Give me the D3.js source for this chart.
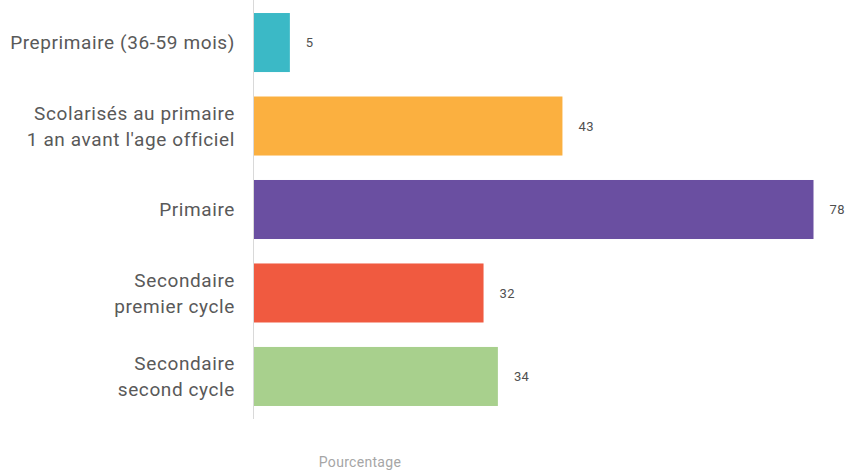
<!DOCTYPE html>
<html>
<head>
<meta charset="utf-8">
<script src="https://cdn.jsdelivr.net/npm/d3@7"></script>
<style>
  html, body { margin: 0; padding: 0; background: #fff; }
  svg { display: block; font-family: "Roboto", "Liberation Sans", sans-serif; }
</style>
</head>
<body>
<svg id="chart" width="850" height="472"></svg>
<script>
// Participation scolaire par niveau (%)
const categories = [
  ["Preprimaire (36-59 mois)"],
  ["Scolarisés au primaire", "1 an avant l'age officiel"],
  ["Primaire"],
  ["Secondaire", "premier cycle"],
  ["Secondaire", "second cycle"]
];
const values = [5, 43, 78, 32, 34];
const colors = ["#3BB9C6", "#FBB040", "#6A4FA1", "#F05A40", "#A8D08D"];
const axisTitle = "Pourcentage";

const svg = d3.select("#chart");
const left = 254;

const x = d3.scaleLinear().domain([0, 78]).range([left, 813.5]);
const y = d3.scaleBand()
  .domain(d3.range(categories.length))
  .range([0, 419])
  .paddingInner(0.293)
  .paddingOuter(0.156);

// bars
svg.append("g").selectAll("rect")
  .data(values)
  .join("rect")
  .attr("x", x(0))
  .attr("y", (d, i) => y(i))
  .attr("width", d => x(d) - x(0))
  .attr("height", y.bandwidth())
  .attr("fill", (d, i) => colors[i]);

// vertical axis line
svg.append("line")
  .attr("x1", left - 0.5).attr("x2", left - 0.5)
  .attr("y1", 0).attr("y2", 419)
  .attr("stroke", "#d9d9d9").attr("stroke-width", 1);

// category labels
const lineH = 26;
svg.append("g").selectAll("text")
  .data(categories)
  .join("text")
  .attr("text-anchor", "end")
  .attr("fill", "#595959")
  .style("font-size", "19px")
  .style("letter-spacing", "0.6px")
  .each(function(lines, i) {
    const cy = y(i) + y.bandwidth() / 2;
    const t = d3.select(this);
    lines.forEach((ln, k) => {
      t.append("tspan")
        .attr("x", 235)
        .attr("y", cy + (k - (lines.length - 1) / 2) * lineH)
        .attr("dy", "0.35em")
        .text(ln);
    });
  });

// value labels
svg.append("g").selectAll("text")
  .data(values)
  .join("text")
  .attr("x", d => x(d) + 16)
  .attr("y", (d, i) => y(i) + y.bandwidth() / 2)
  .attr("dy", "0.35em")
  .attr("fill", "#505050")
  .style("font-size", "13px")
  .style("letter-spacing", "0.4px")
  .text(d => d);

// axis title
svg.append("text")
  .attr("x", 360).attr("y", 462)
  .attr("dy", "0.35em")
  .attr("text-anchor", "middle")
  .attr("fill", "#a6a6a6")
  .style("font-size", "14px")
  .style("letter-spacing", "0.3px")
  .text(axisTitle);
</script>
</body>
</html>
